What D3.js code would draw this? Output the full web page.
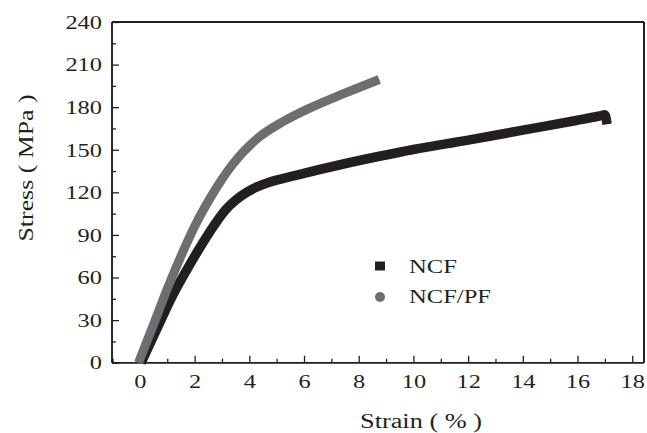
<!DOCTYPE html>
<html><head><meta charset="utf-8">
<script src="https://cdn.jsdelivr.net/npm/d3@7"></script>
<style>
body{margin:0;background:#fff;}
svg{display:block;}
</style></head>
<body>
<svg id="chart" width="647" height="433"></svg>
<script>
const seriesNames = ["NCF", "NCF/PF"];
const seriesColors = ["#231f20", "#6d6e71"];
const ncfStrain = [0.05, 0.6, 1.2, 1.85, 2.55, 3.1, 3.5, 3.9, 4.3, 4.7, 5.7, 7.4, 8.8, 10, 12, 14, 16, 16.8, 17.0, 17.08];
const ncfStress = [0, 23, 47.5, 70, 92, 107, 114.5, 120, 124, 127, 132, 139.8, 145.6, 150.2, 156.8, 163.8, 170.8, 173.8, 174.6, 168];
const pfStrain = [-0.05, 0.5, 1.0, 1.5, 2.0, 2.6, 3.4, 4.3, 5.25, 6.23, 7.45, 8.75];
const pfStress = [0, 27, 52, 75, 96, 117, 140, 158, 170, 179.5, 189.5, 199.5];
const xTicks = [0, 2, 4, 6, 8, 10, 12, 14, 16, 18];
const yTicks = [0, 30, 60, 90, 120, 150, 180, 210, 240];

(function () {
const FONT = "'Liberation Serif', Tinos, 'Times New Roman', 'DejaVu Serif', serif";
const INK = "#231f20";
const svg = d3.select("#chart");
const pLeft = 112, pRight = 644, pTop = 22, pBottom = 362.7;
const x = d3.scaleLinear().domain([-1.02, 18.43]).range([pLeft, pRight]);
const y = d3.scaleLinear().domain([0, 240]).range([pBottom, pTop]);

function fitWidth(sel, perChar) {
  sel.each(function () {
    const n = this.textContent.length;
    if (n > 0) d3.select(this).attr("textLength", n * perChar).attr("lengthAdjust", "spacingAndGlyphs");
  });
}

// frame
svg.append("line").attr("x1", pLeft).attr("x2", pRight).attr("y1", pTop).attr("y2", pTop)
  .attr("stroke", INK).attr("stroke-width", 2);
svg.append("line").attr("x1", pRight).attr("x2", pRight).attr("y1", pTop).attr("y2", pBottom)
  .attr("stroke", INK).attr("stroke-width", 2);

const xMinor = d3.range(-1, 18.01, 1).filter(v => !xTicks.includes(v));
const yMinor = d3.range(15, 240, 30);

const xAxis = svg.append("g").attr("transform", `translate(0,${pBottom})`)
  .call(d3.axisBottom(x).tickValues(xTicks).tickSize(-7).tickPadding(11).tickFormat(d3.format("d")));
const xAxisMinor = svg.append("g").attr("transform", `translate(0,${pBottom})`)
  .call(d3.axisBottom(x).tickValues(xMinor).tickSize(-4).tickFormat(""));
const yAxis = svg.append("g").attr("transform", `translate(${pLeft},0)`)
  .call(d3.axisLeft(y).tickValues(yTicks).tickSize(-7).tickPadding(10).tickFormat(d3.format("d")));
const yAxisMinor = svg.append("g").attr("transform", `translate(${pLeft},0)`)
  .call(d3.axisLeft(y).tickValues(yMinor).tickSize(-4).tickFormat(""));

[[xAxis, true], [xAxisMinor, true], [yAxis, false], [yAxisMinor, false]].forEach(([g, isX]) => {
  g.attr("font-family", null);
  g.select(".domain").attr("stroke", INK).attr("stroke-width", 1.6)
    .attr("d", isX ? `M${pLeft},0H${pRight}` : `M0,${pBottom}V${pTop}`);
  g.selectAll(".tick line").attr("stroke", INK).attr("stroke-width", 1.3);
  g.selectAll("text").style("font-family", FONT).style("font-size", "19.5px").attr("fill", INK);
});
fitWidth(xAxis.selectAll("text"), 12.2);
fitWidth(yAxis.selectAll("text"), 12.2);

// curves
const line = d3.line().x(d => x(d[0])).y(d => y(d[1])).curve(d3.curveMonotoneX);
const ncfData = ncfStrain.map((v, i) => [v, ncfStress[i]]);
const pfData = pfStrain.map((v, i) => [v, pfStress[i]]);
svg.append("path").datum(ncfData).attr("d", line).attr("fill", "none")
  .attr("stroke", seriesColors[0]).attr("stroke-width", 9.5).attr("stroke-linejoin", "round");
svg.append("path").datum(pfData).attr("d", line).attr("fill", "none")
  .attr("stroke", seriesColors[1]).attr("stroke-width", 9).attr("stroke-linejoin", "round");

// legend
const lg = svg.append("g");
lg.append("rect").attr("x", 375).attr("y", 261.5).attr("width", 10).attr("height", 9).attr("fill", seriesColors[0]);
lg.append("circle").attr("cx", 380).attr("cy", 297).attr("r", 5).attr("fill", seriesColors[1]);
const legendWidths = [48, 82];
lg.selectAll("text.lt").data(seriesNames).join("text").attr("class", "lt")
  .attr("x", 409).attr("y", (d, i) => 273 + i * 30)
  .style("font-family", FONT).style("font-size", "18.5px").attr("fill", INK)
  .attr("textLength", (d, i) => legendWidths[i]).attr("lengthAdjust", "spacingAndGlyphs")
  .text(d => d);

// axis titles
svg.append("text").attr("x", 421).attr("y", 428).attr("text-anchor", "middle")
  .style("font-family", FONT).style("font-size", "20px").style("white-space", "pre").attr("fill", INK)
  .attr("textLength", 122).attr("lengthAdjust", "spacingAndGlyphs").text("Strain ( % )");
svg.append("text").attr("transform", "translate(33,168) rotate(-90)").attr("text-anchor", "middle")
  .style("font-family", FONT).style("font-size", "20px").style("white-space", "pre").attr("fill", INK)
  .attr("textLength", 147).attr("lengthAdjust", "spacingAndGlyphs").text("Stress ( MPa )");
})();
</script>
</body></html>
